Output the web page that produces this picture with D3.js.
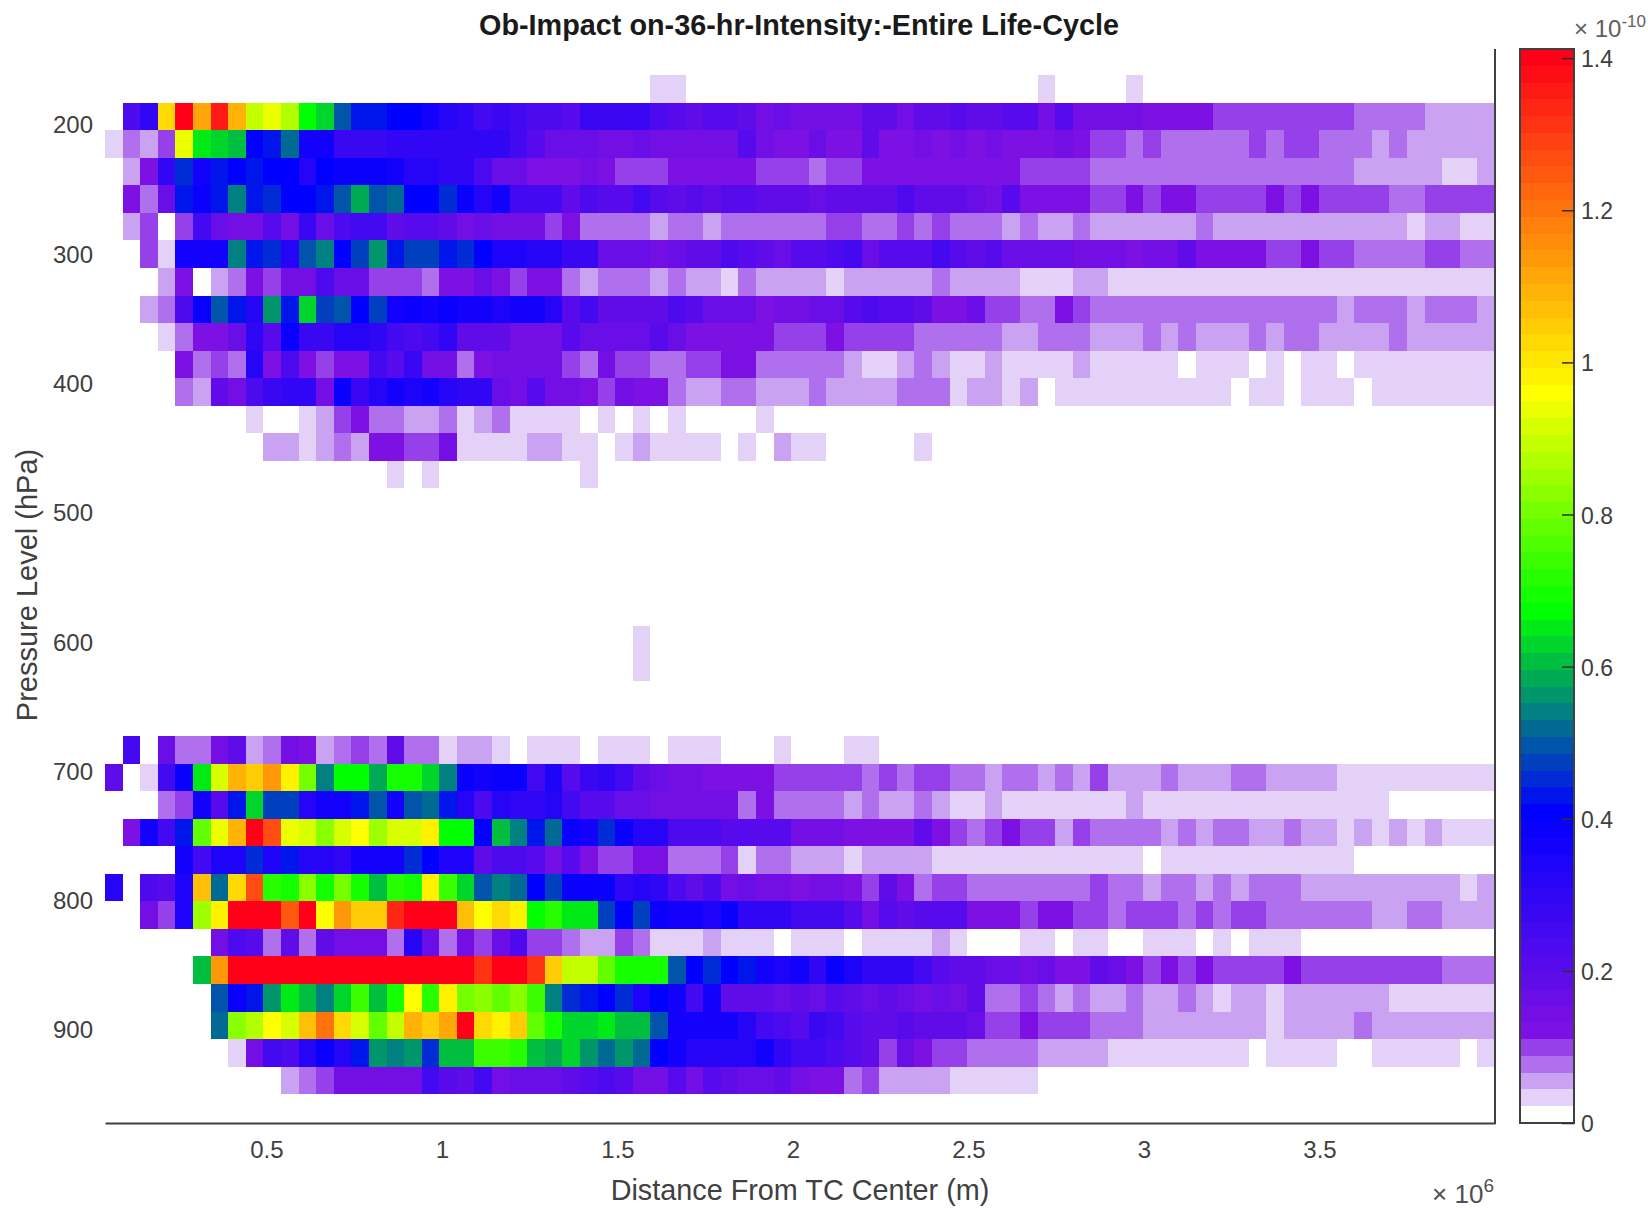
<!DOCTYPE html>
<html lang="en">

<head>
    <meta charset="UTF-8">
    <title>Ob-Impact on-36-hr-Intensity</title>
    <script src="https://cdnjs.cloudflare.com/ajax/libs/d3/7.8.5/d3.min.js"></script>
    <style>
        * {
            margin: 0;
            padding: 0;
        }

        body {
            background: #fff;
        }

        text {
            font-family: "Liberation Sans", Arial, sans-serif;
        }
    </style>
</head>

<body>
</body>
<script>
    const width = 1648
    const height = 1209

    // tick labels
    const xTicks = [0.5e6, 1e6, 1.5e6, 2e6, 2.5e6, 3e6, 3.5e6]
    const yTicks = [200, 300, 400, 500, 600, 700, 800, 900]
    const cbTicks = [0, 0.2, 0.4, 0.6, 0.8, 1, 1.2, 1.4]

    // impact per grid cell, unit 1e-12, one array per pressure row, left to right
    const row00 = [0,0,0,0,0,0,0,0,0,0,0,0,0,0,0,0,0,0,0,0,0,0,0,0,0,0,0,0,0,0,0,3,3,0,0,0,0,0,0,0,
        0,0,0,0,0,0,0,0,0,0,0,0,0,3,0,0,0,0,3]
    const row01 = [0,24,30,103,140,112,136,109,89,94,87,67,62,50,43,43,40,40,36,32,29,26,27,25,23,23,22,27,27,27,27,24,22,19,21,20,18,15,16,14,
        14,14,14,18,18,15,18,18,20,19,19,21,21,14,21,15,15,15,15,12,12,12,12,10,10,10,10,10,10,10,10,8,8,8,8,6,6,6,6]
    const row02 = [3,8,6,10,94,66,62,60,41,44,52,37,37,28,28,28,30,30,30,30,30,30,29,25,22,17,17,17,14,14,16,14,14,14,14,14,22,15,13,13,
        16,13,13,18,13,13,15,12,14,12,14,12,12,12,15,13,10,10,8,10,8,8,8,8,8,10,8,10,10,8,8,8,6,8,6,6,6,6,6]
    const row03 = [0,6,13,30,45,37,42,40,42,40,40,31,40,38,38,38,36,32,32,30,30,23,17,17,12,12,12,15,13,10,10,10,12,12,12,12,12,10,10,10,
        8,10,10,12,12,12,12,12,12,12,12,12,10,10,10,10,8,8,8,8,8,8,8,8,8,8,8,8,8,8,8,6,6,6,6,6,3,3,6]
    const row04 = [0,12,8,17,44,39,43,54,42,46,40,40,44,49,58,50,52,40,40,45,39,32,37,26,26,26,18,24,22,22,26,20,18,20,19,20,20,19,18,18,
        16,19,19,19,19,23,19,19,19,17,14,22,12,12,12,12,10,10,12,10,12,12,10,10,10,10,12,10,12,10,10,10,10,8,8,10,10,10,10]
    const row05 = [0,6,10,0,10,25,16,15,15,21,14,28,16,24,25,25,19,20,20,19,15,17,14,14,14,10,12,8,8,8,8,6,8,8,6,8,8,8,8,8,
        8,10,10,8,8,10,8,10,8,8,8,6,8,6,6,8,6,6,6,6,6,6,8,6,6,6,6,6,6,6,6,6,6,6,3,6,6,3,3]
    const row06 = [0,0,10,3,37,37,37,54,43,46,32,50,54,40,47,56,43,47,47,43,45,40,35,35,31,31,27,27,17,17,17,15,17,19,19,23,21,19,17,20,
        20,24,25,16,22,20,22,26,21,19,20,16,16,16,17,15,15,15,13,15,15,19,12,12,12,12,10,10,12,10,10,8,8,8,8,10,10,8,8]
    const row07 = [0,0,0,6,12,0,6,8,12,10,15,15,23,17,17,10,10,10,8,12,13,16,13,10,12,12,8,6,8,8,8,6,8,6,6,3,8,6,6,6,
        6,3,6,6,6,6,6,8,6,6,6,6,3,3,3,6,6,3,3,3,3,3,3,3,3,3,3,3,3,3,3,3,3,3,3,3,3,3,3]
    const row08 = [0,0,6,8,24,38,50,43,33,57,43,63,47,50,40,47,36,38,36,38,36,36,35,37,37,32,20,26,19,19,19,19,24,22,16,16,16,13,15,15,
        17,17,21,24,21,21,18,13,13,17,10,10,8,8,12,10,8,8,8,8,8,8,8,8,8,8,8,8,8,8,6,8,8,8,6,8,8,8,6]
    const row09 = [0,0,0,3,8,12,12,17,29,21,38,27,27,31,33,30,26,24,26,29,18,18,18,15,15,15,20,17,17,17,17,22,16,13,13,13,13,13,10,10,
        10,12,10,10,10,10,8,8,8,8,8,6,6,8,8,8,6,6,6,8,6,8,6,6,6,8,6,8,8,6,6,6,6,8,6,6,6,6,6]
    const row10 = [0,0,0,0,12,8,10,8,33,13,23,13,10,12,12,25,21,27,15,15,8,12,14,14,14,14,10,8,14,10,10,8,8,10,10,12,12,8,8,8,
        8,8,6,3,3,6,8,6,3,3,6,3,3,3,3,6,3,3,3,3,3,0,3,3,3,0,3,0,3,3,0,3,3,3,3,3,3,3,3]
    const row11 = [0,0,0,0,8,6,18,15,24,28,30,30,14,38,27,32,37,35,37,32,30,30,17,15,21,15,15,13,10,14,12,12,8,6,6,8,8,6,6,6,
        8,6,6,6,6,8,8,8,3,6,6,3,6,0,3,3,3,3,3,3,3,3,3,3,0,3,3,0,3,3,3,0,3,3,3,3,3,3,3]
    const row12 = [0,0,0,0,0,0,0,0,3,0,0,3,6,10,12,8,8,6,6,8,3,6,8,3,3,3,3,0,3,0,3,0,3,0,0,0,0,3]
    const row13 = [0,0,0,0,0,0,0,0,0,6,6,3,6,8,6,12,12,10,10,14,3,3,3,3,6,6,3,3,0,3,6,3,3,3,3,0,3,0,6,3,
        3,0,0,0,0,0,3]
    const row14 = [0,0,0,0,0,0,0,0,0,0,0,0,0,0,0,0,3,0,3,0,0,0,0,0,0,0,0,3]
    const row15 = []
    const row16 = []
    const row17 = []
    const row18 = []
    const row19 = []
    const row20 = [0,0,0,0,0,0,0,0,0,0,0,0,0,0,0,0,0,0,0,0,0,0,0,0,0,0,0,0,0,0,3]
    const row21 = [0,0,0,0,0,0,0,0,0,0,0,0,0,0,0,0,0,0,0,0,0,0,0,0,0,0,0,0,0,0,3]
    const row22 = []
    const row23 = []
    const row24 = [0,26,0,17,8,8,15,18,6,8,15,13,6,8,10,8,19,8,8,3,6,6,3,0,3,3,3,0,3,3,3,0,3,3,3,0,0,0,3,0,
        0,0,3,3]
    const row25 = [18,0,3,26,38,65,91,109,105,114,98,80,55,68,68,58,69,70,63,54,39,37,39,39,26,35,21,28,29,26,19,16,15,14,13,12,12,12,10,10,
        10,10,10,8,10,8,10,10,8,8,6,8,8,6,8,6,10,6,6,6,8,6,6,6,8,8,6,6,6,6,3,3,3,3,3,3,3,3,3]
    const row26 = [0,0,0,8,10,37,21,42,62,47,47,31,37,36,42,49,37,49,52,42,32,24,32,30,30,33,26,21,20,16,16,15,15,14,14,14,8,13,8,8,
        8,8,6,8,6,6,8,6,3,3,6,3,3,3,3,3,3,3,6,3,3,3,3,3,3,3,3,3,3,3,3,3,3]
    const row27 = [0,13,37,26,43,78,94,109,139,127,94,91,83,91,96,85,92,92,98,68,68,40,60,55,43,52,39,36,45,39,32,32,24,24,24,22,22,21,20,15,
        14,15,12,12,12,12,18,12,10,8,10,13,10,10,6,10,8,8,8,8,6,8,6,8,8,6,6,8,6,6,3,6,3,6,3,6,3,3,3]
    const row28 = [0,0,0,0,37,26,35,34,45,34,42,32,32,30,36,37,37,46,40,34,34,18,24,24,20,14,22,13,10,10,12,12,8,8,8,10,3,8,8,6,
        6,6,3,6,6,6,6,3,3,3,3,3,3,3,3,3,3,3,3,0,3,3,3,3,3,3,3,3,3,3,3]
    const row29 = [32,0,23,22,34,106,52,103,127,72,69,83,69,80,70,60,72,70,98,73,62,49,54,52,40,47,39,38,38,30,32,30,24,19,23,15,17,15,14,13,
        14,14,12,10,18,13,8,10,10,8,8,8,8,8,8,8,10,8,8,6,8,8,6,8,6,8,8,8,6,6,6,6,6,6,6,6,6,3,6]
    const row30 = [0,0,14,10,34,85,98,140,140,140,124,139,96,114,105,105,134,140,140,140,106,96,103,99,67,72,64,64,47,40,47,38,37,36,35,38,30,29,29,25,
        25,25,21,15,22,19,22,20,20,13,13,13,10,12,12,10,10,8,10,10,10,8,10,8,10,10,8,8,8,8,8,8,6,6,8,8,6,6,6]
    const row31 = [0,0,0,0,0,0,14,23,21,8,18,8,19,14,14,14,8,32,16,8,14,10,17,24,10,10,8,6,6,10,8,3,3,3,6,3,3,3,0,3,
        3,3,0,3,3,3,3,6,3,0,0,0,3,3,0,3,3,0,0,3,3,3,0,3,0,3,3,3]
    const row32 = [0,0,0,0,0,60,114,140,140,140,140,140,140,140,140,140,140,140,140,140,140,131,140,140,131,105,89,89,79,69,70,70,50,40,46,40,44,37,34,36,
        30,38,34,30,30,30,25,22,18,18,16,16,15,16,13,13,19,17,13,10,12,10,12,10,10,10,10,12,10,10,10,10,10,10,10,10,8,8,8]
    const row33 = [0,0,0,0,0,0,49,38,44,57,65,60,54,62,75,60,69,96,72,98,80,83,78,83,75,55,46,43,40,46,34,40,37,25,36,19,19,19,16,19,
        16,20,19,17,18,17,15,17,15,19,8,8,10,8,6,8,6,6,8,6,6,8,6,3,6,6,3,6,6,6,6,6,6,3,3,3,3,3,3]
    const row34 = [0,0,0,0,0,0,52,83,87,96,92,107,121,103,91,78,89,109,105,111,139,103,99,105,79,70,62,62,65,60,60,50,37,37,37,36,32,25,24,20,
        28,25,20,18,18,22,19,19,18,16,10,10,12,10,10,10,8,8,8,6,6,6,6,6,6,6,3,6,6,6,6,8,6,6,6,6,6,6,6]
    const row35 = [0,0,0,0,0,0,0,3,14,26,23,32,39,32,42,57,54,56,46,60,60,75,75,72,60,59,63,56,52,56,52,40,37,33,33,33,33,36,30,26,
        25,24,21,19,10,16,13,10,10,8,8,8,8,6,6,6,6,3,3,3,3,3,3,3,3,0,3,3,3,3,0,0,3,3,3,3,3,0,3]
    const row36 = [0,0,0,0,0,0,0,0,0,0,6,8,10,15,15,14,14,14,25,22,18,26,15,17,17,17,19,22,24,22,15,15,22,14,20,19,16,17,18,15,
        13,13,8,10,6,6,6,6,3,3,3,3,3]

    const rows = [row00, row01, row02, row03, row04, row05, row06, row07, row08, row09,
        row10, row11, row12, row13, row14, row15, row16, row17, row18, row19,
        row20, row21, row22, row23, row24, row25, row26, row27, row28, row29,
        row30, row31, row32, row33, row34, row35, row36]

    const nCols = 79
    const nLevels = 64
    const vMax = 141.2

    const margin = { left: 105, right: 153, top: 49, bottom: 86 }
    const axisRight = width - margin.right
    const axisBottom = height - margin.bottom

    const xScale = d3.scaleLinear().domain([0.04e6, 4e6]).range([margin.left, axisRight])
    const yScale = d3.scaleLinear().domain([142, 972.7]).range([margin.top, axisBottom])
    const colEdge = d3.scaleLinear().domain([0, nCols]).range([0.04e6, 4e6])
    const rowEdge = d3.scaleLinear().domain([0, 37]).range([162.3, 950.4])

    // colormap: white, four pale purples, then purple-blue-green-yellow-red
    const pale = ['#ffffff', '#e3d1f7', '#c9a3f1', '#b070ee', '#9640e9']
    const ramp = d3.scaleLinear()
        .domain([5, 18, 30, 43, 63])
        .range(['#7d10e3', '#0000ff', '#00ff00', '#ffff00', '#ff0018'])
    const levels = d3.range(nLevels).map(i => i < 5 ? pale[i] : ramp(i))
    const levelOf = d3.scaleQuantize().domain([0, vMax]).range(d3.range(nLevels))

    const svg = d3.select('body')
        .append('svg')
        .attr('width', width)
        .attr('height', height)
        .style('display', 'block')

    const cells = rows.flatMap((row, r) => row.map((v, c) => ({ r, c, v }))).filter(d => d.v > 0)

    svg.append('g').selectAll('rect')
        .data(cells)
        .enter()
        .append('rect')
        .attr('x', d => xScale(colEdge(d.c)))
        .attr('y', d => yScale(rowEdge(d.r)))
        .attr('width', d => xScale(colEdge(d.c + 1)) - xScale(colEdge(d.c)))
        .attr('height', d => yScale(rowEdge(d.r + 1)) - yScale(rowEdge(d.r)))
        .attr('fill', d => levels[levelOf(d.v)])
        .attr('shape-rendering', 'crispEdges')

    const tickColor = '#404040'

    const xAxis = d3.axisBottom(xScale)
        .tickValues(xTicks)
        .tickSize(0)
        .tickPadding(18)
        .tickFormat(d => d / 1e6)
    const yAxis = d3.axisLeft(yScale)
        .tickValues(yTicks)
        .tickSize(0)
        .tickPadding(12)

    const gx = svg.append('g')
        .attr('transform', 'translate(0,' + axisBottom + ')')
        .call(xAxis)
    const gy = svg.append('g')
        .attr('transform', 'translate(' + margin.left + ',0)')
        .call(yAxis)
    gy.select('.domain').remove()
    gx.select('.domain').attr('stroke', tickColor).attr('stroke-width', 2)
    gx.selectAll('text').attr('font-size', 24).attr('fill', tickColor)
    gy.selectAll('text').attr('font-size', 24).attr('fill', tickColor).attr('dy', '0.37em')

    // right edge of the axes box
    svg.append('line')
        .attr('x1', axisRight).attr('x2', axisRight)
        .attr('y1', margin.top).attr('y2', axisBottom + 1)
        .attr('stroke', tickColor).attr('stroke-width', 2)

    // colorbar
    const cbLeft = 1520
    const cbRight = 1574
    const cbScale = d3.scaleLinear().domain([0, vMax / 100]).range([axisBottom, margin.top])

    svg.append('g').selectAll('rect')
        .data(levels)
        .enter()
        .append('rect')
        .attr('x', cbLeft)
        .attr('width', cbRight - cbLeft)
        .attr('y', (d, i) => cbScale((i + 1) * vMax / 100 / nLevels))
        .attr('height', (d, i) => cbScale(i * vMax / 100 / nLevels) - cbScale((i + 1) * vMax / 100 / nLevels))
        .attr('fill', d => d)
        .attr('shape-rendering', 'crispEdges')

    svg.append('rect')
        .attr('x', cbLeft).attr('y', margin.top)
        .attr('width', cbRight - cbLeft).attr('height', axisBottom - margin.top)
        .attr('fill', 'none').attr('stroke', tickColor).attr('stroke-width', 2)

    const cbAxis = d3.axisRight(cbScale)
        .tickValues(cbTicks)
        .tickSize(-12)
        .tickPadding(7)
        .tickFormat(d => d)
    const gc = svg.append('g')
        .attr('transform', 'translate(' + cbRight + ',0)')
        .call(cbAxis)
    gc.select('.domain').remove()
    gc.selectAll('line').attr('stroke', '#303030').attr('stroke-width', 1.5)
    gc.selectAll('text').attr('font-size', 23).attr('fill', tickColor).attr('dy', '0.37em')

    // labels
    svg.append('text')
        .attr('x', 799).attr('y', 35)
        .attr('text-anchor', 'middle')
        .attr('font-size', 28.8).attr('font-weight', 'bold').attr('fill', '#1a1a1a')
        .text('Ob-Impact on-36-hr-Intensity:-Entire Life-Cycle')

    svg.append('text')
        .attr('x', 800).attr('y', 1200)
        .attr('text-anchor', 'middle')
        .attr('font-size', 28.8).attr('fill', tickColor)
        .text('Distance From TC Center (m)')

    svg.append('text')
        .attr('transform', 'translate(37,585) rotate(-90)')
        .attr('text-anchor', 'middle')
        .attr('font-size', 29).attr('fill', tickColor)
        .text('Pressure Level (hPa)')

    // axis exponents
    const xExp = svg.append('text')
        .attr('x', 1494).attr('y', 1203)
        .attr('text-anchor', 'end')
        .attr('font-size', 26).attr('fill', '#505050')
    xExp.append('tspan').text('× 10')
    xExp.append('tspan').attr('dy', -11).attr('font-size', 19).text('6')

    const cbExp = svg.append('text')
        .attr('x', 1646).attr('y', 37)
        .attr('text-anchor', 'end')
        .attr('font-size', 24).attr('fill', '#606060')
    cbExp.append('tspan').text('× 10')
    cbExp.append('tspan').attr('dy', -10).attr('font-size', 17).text('-10')
</script>

</html>
